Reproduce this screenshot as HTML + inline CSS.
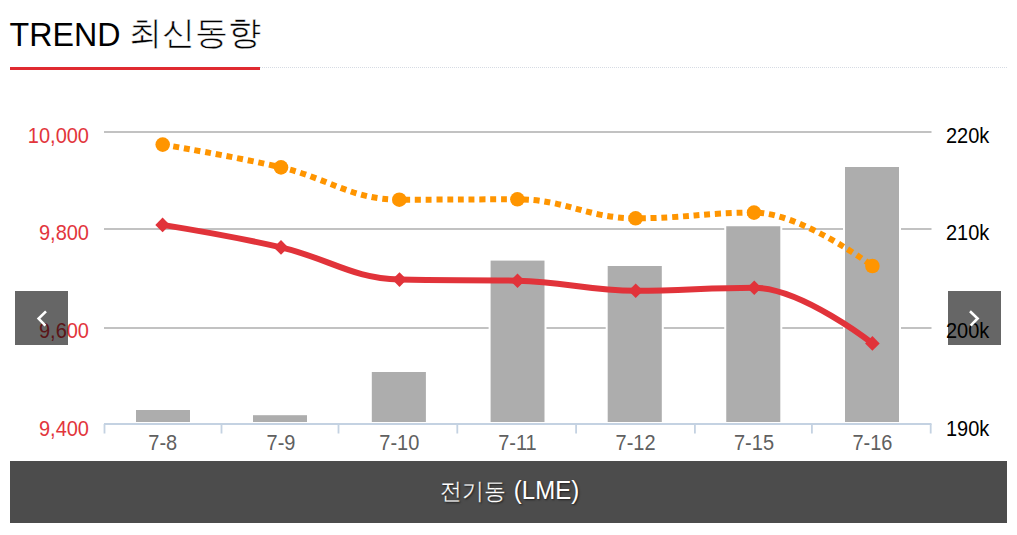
<!DOCTYPE html>
<html><head><meta charset="utf-8"><style>
html,body{margin:0;padding:0;background:#fff;}
body{width:1017px;height:535px;overflow:hidden;position:relative;font-family:"Liberation Sans",sans-serif;}
.title{position:absolute;left:9.6px;top:15px;font-size:32.2px;line-height:40px;color:#000;white-space:nowrap;}
.tl{display:inline-block;transform:scaleY(1.04);transform-origin:0 30px;}
.ko{position:relative;top:-2px;font-size:32.7px;margin-left:-0.8px;-webkit-text-stroke:0.45px #fff;}
.uline{position:absolute;left:10px;top:67px;width:250px;height:3px;background:#e02a31;}
.dline{position:absolute;left:260px;top:67px;width:747px;height:0;border-top:1px dotted #d6dbe3;}
svg.chart{position:absolute;left:0;top:0;}
.nav{position:absolute;top:291px;width:53px;height:54px;background:rgba(0,0,0,0.6);}
.nav svg{position:absolute;left:0;top:0;}
.bt{display:inline-block;position:relative;left:1.2px;transform:scaleY(1.05);transform-origin:50% 38px;}
.bko{font-size:22px;margin-right:0.9px;-webkit-text-stroke:0.2px #4c4c4c;}
.bar{position:absolute;left:10px;top:461px;width:997px;height:62px;background:#4c4c4c;color:#fff;text-align:center;font-size:24px;line-height:60px;text-shadow:1px 1px 2px rgba(0,0,0,0.6);}
</style></head><body>
<div class="title"><span class="tl">TREND</span> <span class="ko">최신동향</span></div>
<div class="uline"></div>
<div class="dline"></div>
<svg class="chart" width="1017" height="535" viewBox="0 0 1017 535" font-family="Liberation Sans, sans-serif">
<rect x="104.0" y="131.0" width="827.5" height="2" fill="#c2c2c2"/>
<rect x="104.0" y="228.0" width="827.5" height="2" fill="#c2c2c2"/>
<rect x="104.0" y="327.0" width="827.5" height="2" fill="#c2c2c2"/>
<rect x="104.0" y="423.0" width="827.5" height="2" fill="#c4d2e2"/>
<rect x="134" y="408" width="58" height="15.0" fill="#fff"/>
<rect x="136" y="410" width="54" height="12.0" fill="#adadad"/>
<rect x="251" y="413.2" width="58" height="9.800000000000011" fill="#fff"/>
<rect x="253" y="415.2" width="54" height="6.800000000000011" fill="#adadad"/>
<rect x="369.8" y="370" width="58.099999999999966" height="53.0" fill="#fff"/>
<rect x="371.8" y="372" width="54.099999999999966" height="50.0" fill="#adadad"/>
<rect x="488.6" y="258.6" width="57.89999999999998" height="164.39999999999998" fill="#fff"/>
<rect x="490.6" y="260.6" width="53.89999999999998" height="161.39999999999998" fill="#adadad"/>
<rect x="605.7" y="264" width="58.09999999999991" height="159.0" fill="#fff"/>
<rect x="607.7" y="266" width="54.09999999999991" height="156.0" fill="#adadad"/>
<rect x="724.25" y="224.25" width="58.049999999999955" height="198.75" fill="#fff"/>
<rect x="726.25" y="226.25" width="54.049999999999955" height="195.75" fill="#adadad"/>
<rect x="843" y="165" width="58" height="258.0" fill="#fff"/>
<rect x="845" y="167" width="54" height="255.0" fill="#adadad"/>
<rect x="103.60" y="424.0" width="1.8" height="9.5" fill="#c4d2e2"/>
<rect x="220.60" y="424.0" width="1.8" height="9.5" fill="#c4d2e2"/>
<rect x="337.60" y="424.0" width="1.8" height="9.5" fill="#c4d2e2"/>
<rect x="456.40" y="424.0" width="1.8" height="9.5" fill="#c4d2e2"/>
<rect x="575.20" y="424.0" width="1.8" height="9.5" fill="#c4d2e2"/>
<rect x="694.00" y="424.0" width="1.8" height="9.5" fill="#c4d2e2"/>
<rect x="811.00" y="424.0" width="1.8" height="9.5" fill="#c4d2e2"/>
<rect x="929.80" y="424.0" width="1.8" height="9.5" fill="#c4d2e2"/>
<text transform="translate(162.7 450) scale(1 1.06)" text-anchor="middle" fill="#606060" font-size="20">7-8</text>
<text transform="translate(281.0 450) scale(1 1.06)" text-anchor="middle" fill="#606060" font-size="20">7-9</text>
<text transform="translate(399.3 450) scale(1 1.06)" text-anchor="middle" fill="#606060" font-size="20">7-10</text>
<text transform="translate(517.4 450) scale(1 1.06)" text-anchor="middle" fill="#606060" font-size="20">7-11</text>
<text transform="translate(635.6 450) scale(1 1.06)" text-anchor="middle" fill="#606060" font-size="20">7-12</text>
<text transform="translate(754.0 450) scale(1 1.06)" text-anchor="middle" fill="#606060" font-size="20">7-15</text>
<text transform="translate(872.4 450) scale(1 1.06)" text-anchor="middle" fill="#606060" font-size="20">7-16</text>
<text transform="translate(89 143.0) scale(1 1.06)" text-anchor="end" fill="#e2353c" font-size="20">10,000</text>
<text transform="translate(89 240.0) scale(1 1.06)" text-anchor="end" fill="#e2353c" font-size="20">9,800</text>
<text transform="translate(89 337.5) scale(1 1.06)" text-anchor="end" fill="#e2353c" font-size="20">9,600</text>
<text transform="translate(89 435.5) scale(1 1.06)" text-anchor="end" fill="#e2353c" font-size="20">9,400</text>
<text transform="translate(946 143.0) scale(1 1.06)" fill="#000" font-size="20">220k</text>
<text transform="translate(946 240.0) scale(1 1.06)" fill="#000" font-size="20">210k</text>
<text transform="translate(946 337.5) scale(1 1.06)" fill="#000" font-size="20">200k</text>
<text transform="translate(946 435.5) scale(1 1.06)" fill="#000" font-size="20">190k</text>
<path d="M162.60 224.90 C162.60 224.90 233.64 236.46 281.00 247.40 C328.40 258.34 352.10 278.50 399.50 279.60 C446.70 280.70 470.30 279.60 517.50 280.70 C564.78 281.80 588.42 290.80 635.70 290.80 C683.12 290.80 706.83 287.70 754.25 287.70 C801.51 287.70 872.40 343.40 872.40 343.40" fill="none" stroke="#e1333a" stroke-width="6" stroke-linejoin="round" stroke-linecap="round"/>
<path d="M162.60 217.60 L169.90 224.90 L162.60 232.20 L155.30 224.90Z" fill="#e1333a"/>
<path d="M281.00 240.10 L288.30 247.40 L281.00 254.70 L273.70 247.40Z" fill="#e1333a"/>
<path d="M399.50 272.30 L406.80 279.60 L399.50 286.90 L392.20 279.60Z" fill="#e1333a"/>
<path d="M517.50 273.40 L524.80 280.70 L517.50 288.00 L510.20 280.70Z" fill="#e1333a"/>
<path d="M635.70 283.50 L643.00 290.80 L635.70 298.10 L628.40 290.80Z" fill="#e1333a"/>
<path d="M754.25 280.40 L761.55 287.70 L754.25 295.00 L746.95 287.70Z" fill="#e1333a"/>
<path d="M872.40 336.10 L879.70 343.40 L872.40 350.70 L865.10 343.40Z" fill="#e1333a"/>
<path d="M162.70 144.60 C162.70 144.60 233.68 156.38 281.00 167.40 C328.32 178.42 351.98 199.70 399.30 199.70 C446.54 199.70 470.16 199.30 517.40 199.30 C564.68 199.30 588.32 218.30 635.60 218.30 C682.96 218.30 706.64 212.60 754.00 212.60 C801.36 212.60 872.40 266.00 872.40 266.00" fill="none" stroke="#ff9500" stroke-width="6" stroke-dasharray="6 4.8"/>
<circle cx="162.7" cy="144.6" r="7.3" fill="#ff9500"/>
<circle cx="281" cy="167.4" r="7.3" fill="#ff9500"/>
<circle cx="399.3" cy="199.7" r="7.3" fill="#ff9500"/>
<circle cx="517.4" cy="199.3" r="7.3" fill="#ff9500"/>
<circle cx="635.6" cy="218.3" r="7.3" fill="#ff9500"/>
<circle cx="754" cy="212.6" r="7.3" fill="#ff9500"/>
<circle cx="872.4" cy="266" r="7.3" fill="#ff9500"/>
</svg>
<div class="nav" style="left:15px"><svg width="53" height="54"><polyline points="31,20.4 23.6,27.6 30.4,34.6" fill="none" stroke="#fff" stroke-width="2.6"/></svg></div>
<div class="nav" style="left:948px"><svg width="53" height="54"><polyline points="22,20.3 29.6,27.5 22.6,34.6" fill="none" stroke="#fff" stroke-width="2.6"/></svg></div>
<div class="bar"><span class="bt"><span class="bko">전기동</span> (LME)</span></div>
</body></html>
